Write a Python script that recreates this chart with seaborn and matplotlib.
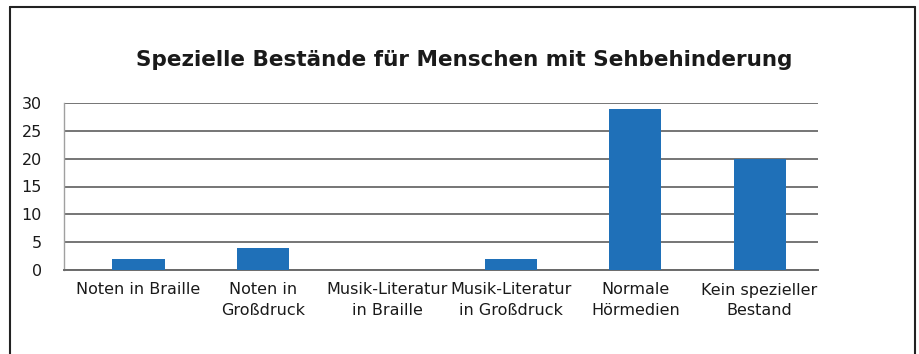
import matplotlib
matplotlib.use("Agg")
import matplotlib.pyplot as plt
import seaborn as sns
import pandas as pd
from matplotlib.lines import Line2D

categories = ["Noten in Braille", "Noten in\nGroßdruck", "Musik-Literatur\nin Braille",
              "Musik-Literatur\nin Großdruck", "Normale\nHörmedien", "Kein spezieller\nBestand"]
values = [2, 4, 0, 2, 29, 20]
yticks = [0, 5, 10, 15, 20, 25, 30]
title = "Spezielle Bestände für Menschen mit Sehbehinderung"

sns.set_theme(style="white")
plt.rcParams["font.family"] = ["DejaVu Sans"]

df = pd.DataFrame({"cat": categories, "val": values})

fig = plt.figure(figsize=(9.19, 3.54), dpi=100)
ax = fig.add_axes([64/919, (354-270)/354, (818-64)/919, (270-103)/354])

sns.barplot(data=df, x="cat", y="val", color="#1f70b8", width=0.42, ax=ax,
            saturation=1, edgecolor="none", zorder=3)

ax.set_ylim(0, 30)
ax.set_xlim(-0.6, len(categories) - 0.53)
ax.set_yticks(yticks)
ax.set_yticklabels([str(t) for t in yticks], fontsize=11.5)
ax.tick_params(axis="x", labelsize=11.5, length=0, pad=9)
ax.tick_params(axis="y", length=0, pad=16)
for lbl in ax.get_xticklabels():
    lbl.set_linespacing(1.45)
ax.set_xlabel("")
ax.set_ylabel("")
ax.yaxis.grid(True, color="#757575", linewidth=1.4, zorder=0)
ax.set_axisbelow(True)
for s in ["top", "right"]:
    ax.spines[s].set_visible(False)
ax.spines["left"].set_color("#a0a0a0")
ax.spines["left"].set_linewidth(1.0)
ax.spines["bottom"].set_color("#6a6a6a")
ax.spines["bottom"].set_linewidth(1.4)
for t in ax.get_xticklabels() + ax.get_yticklabels():
    t.set_color("#1a1a1a")

fig.text(464/919, 1 - 60/354, title, ha="center", va="center",
         fontsize=15.5, fontweight="bold", color="#1a1a1a")

# outer frame (left, top, right)
fx0, fx1, fy0 = 10/919, 915/919, 1 - 7/354
fig.add_artist(Line2D([fx0, fx0], [0, fy0], transform=fig.transFigure, color="#222222", lw=1.5))
fig.add_artist(Line2D([fx0, fx1], [fy0, fy0], transform=fig.transFigure, color="#222222", lw=1.5))
fig.add_artist(Line2D([fx1, fx1], [0, fy0], transform=fig.transFigure, color="#222222", lw=1.5))

fig.savefig("out.png", dpi=100)
